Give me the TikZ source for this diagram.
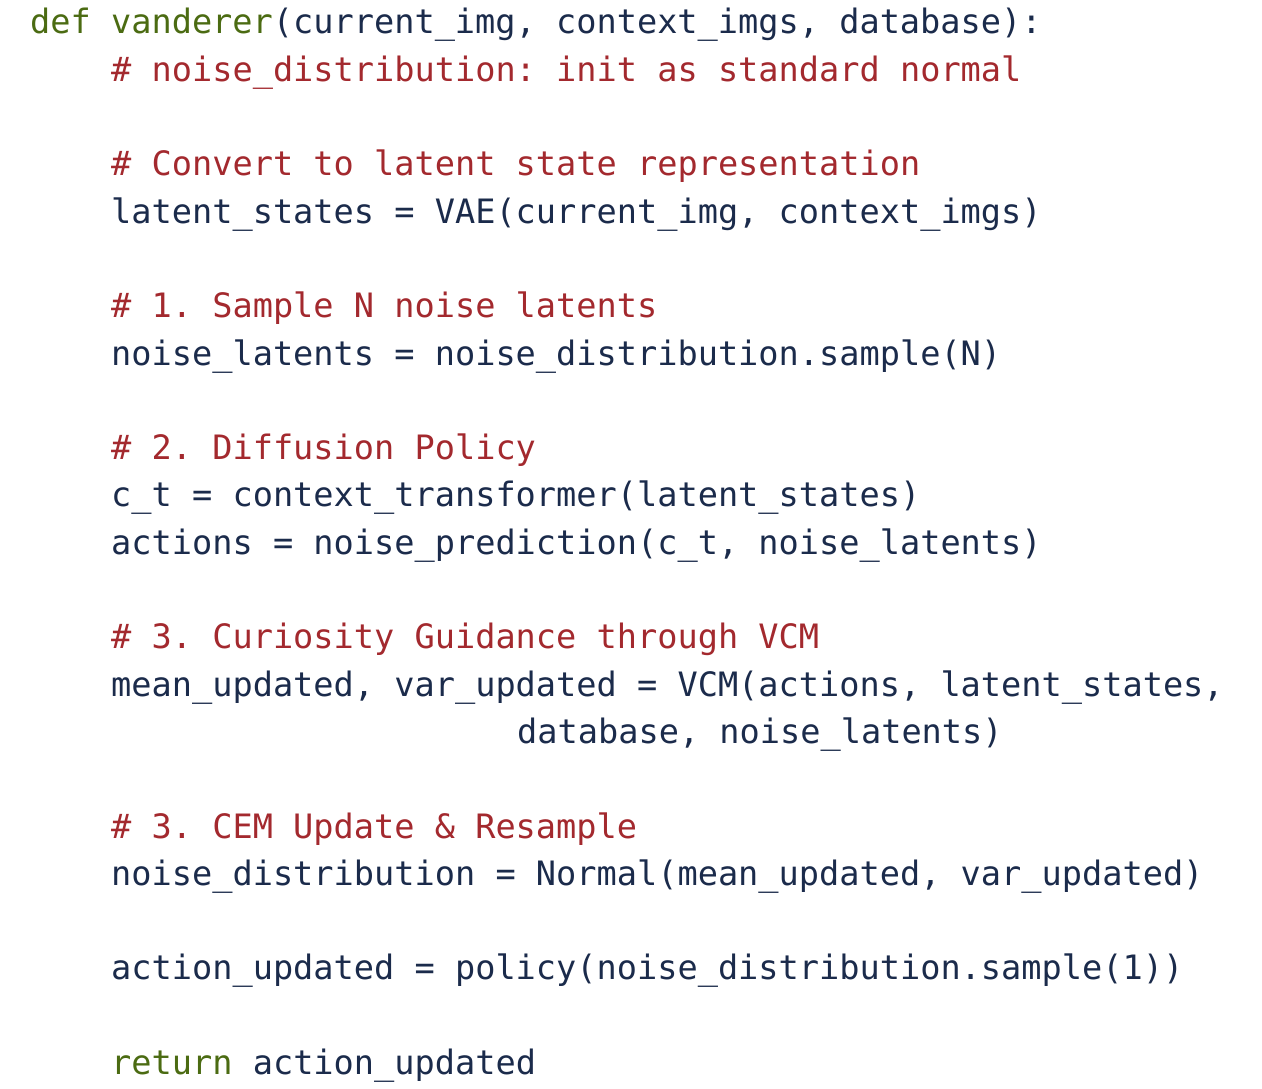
\documentclass[tikz,border=0pt]{standalone}
\usepackage{fontspec}
\setmonofont{DejaVu Sans Mono}
\definecolor{kw}{HTML}{4B6B12}
\definecolor{tx}{HTML}{1B2B4B}
\definecolor{cm}{HTML}{A3292E}
\tikzset{codeline/.style={anchor=base west,inner sep=0pt,text=tx,font=\ttfamily\fontsize{33.6}{40}\selectfont}}
\newcommand{\K}[1]{\textcolor{kw}{#1}}
\newcommand{\C}[1]{\textcolor{cm}{#1}}
\begin{document}
\begin{tikzpicture}[x=1pt,y=1pt]
\useasboundingbox (0,0) rectangle (1262,1088);
\def\ln#1{1088-34-47.3*#1}
\node[codeline] (l0) at (30,{\ln{0}}) {\K{def vanderer}(current\_img, context\_imgs, database):};
\node[codeline] (l1) at (111,{\ln{1}}) {\C{\# noise\_distribution: init as standard normal}};
\node[codeline] (l3) at (111,{\ln{3}}) {\C{\# Convert to latent state representation}};
\node[codeline] (l4) at (111,{\ln{4}}) {latent\_states = VAE(current\_img, context\_imgs)};
\node[codeline] (l6) at (111,{\ln{6}}) {\C{\# 1. Sample N noise latents}};
\node[codeline] (l7) at (111,{\ln{7}}) {noise\_latents = noise\_distribution.sample(N)};
\node[codeline] (l9) at (111,{\ln{9}}) {\C{\# 2. Diffusion Policy}};
\node[codeline] (l10) at (111,{\ln{10}}) {c\_t = context\_transformer(latent\_states)};
\node[codeline] (l11) at (111,{\ln{11}}) {actions = noise\_prediction(c\_t, noise\_latents)};
\node[codeline] (l13) at (111,{\ln{13}}) {\C{\# 3. Curiosity Guidance through VCM}};
\node[codeline] (l14) at (111,{\ln{14}}) {mean\_updated, var\_updated = VCM(actions, latent\_states,};
\node[codeline] (l15) at (517,{\ln{15}}) {database, noise\_latents)};
\node[codeline] (l17) at (111,{\ln{17}}) {\C{\# 3. CEM Update \& Resample}};
\node[codeline] (l18) at (111,{\ln{18}}) {noise\_distribution = Normal(mean\_updated, var\_updated)};
\node[codeline] (l20) at (111,{\ln{20}}) {action\_updated = policy(noise\_distribution.sample(1))};
\node[codeline] (l22) at (111,{\ln{22}}) {\K{return} action\_updated};
\end{tikzpicture}
\end{document}
